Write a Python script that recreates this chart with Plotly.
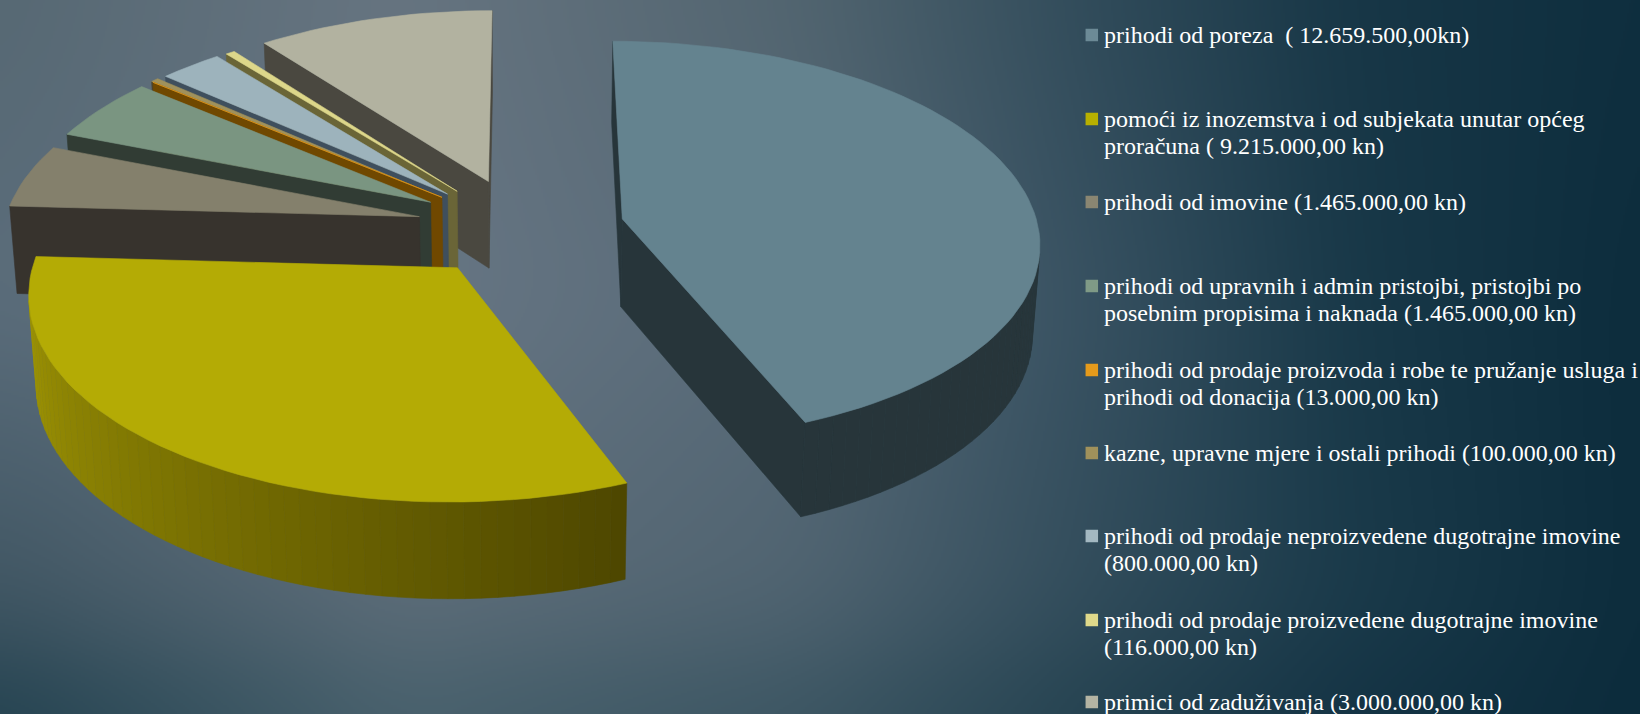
import base64, struct, zlib
import numpy as np
import plotly.graph_objects as go

# ---- data ----
categories = [
    "prihodi od poreza\u00a0\u00a0( 12.659.500,00kn)",
    "pomoći iz inozemstva i od subjekata unutar općeg<br>proračuna ( 9.215.000,00 kn)",
    "prihodi od imovine (1.465.000,00 kn)",
    "prihodi od upravnih i admin pristojbi, pristojbi po<br>posebnim propisima i naknada (1.465.000,00 kn)",
    "prihodi od prodaje proizvoda i robe te pružanje usluga i<br>prihodi od donacija (13.000,00 kn)",
    "kazne, upravne mjere i ostali prihodi (100.000,00 kn)",
    "prihodi od prodaje neproizvedene dugotrajne imovine<br>(800.000,00 kn)",
    "prihodi od prodaje proizvedene dugotrajne imovine<br>(116.000,00 kn)",
    "primici od zaduživanja (3.000.000,00 kn)",
]
values = [12659500, 9215000, 1465000, 1465000, 13000, 100000, 800000, 116000, 3000000]
pull = [0.24, 0.265, 0.27, 0.27, 0.27, 0.27, 0.27, 0.27, 0.27]
shift_x = [-0.003, -0.007, 0.006, 0.0, 0.002, -0.006, -0.005, -0.002, -0.006]
shift_y = [0.0, 0.020, 0.0, -0.006, -0.016, -0.016, -0.021, -0.024, -0.016]
top_colors = ["#64838F", "#B4AB05", "#84806C", "#7A9581", "#E59A1B", "#A0915B", "#9DB3BC", "#DDD78A", "#B2B2A0"]
side_colors = ["#27353A", "#6E6703", "#37332D", "#313C34", "#704800", "#4A4330", "#3F4F5D", "#6A6537", "#4A4840"]
legend_colors = ["#6C8A96", "#B8B000", "#8A8672", "#7F9A86", "#E59A1B", "#A0915B", "#A3B8C1", "#DFD98A", "#B4B4A3"]
marker_y = [35, 119, 202, 286, 370, 453, 536, 620, 702]
line_gap = 27.3
rim_dark, rim_light = (0x4E, 0x47, 0x00), (0xA8, 0x9E, 0x05)

# background colour samples
bg_x = [0, 400, 800, 1100, 1350, 1640]
bg_y = [0, 300, 600, 714]
bg_rows = [
    ["#566873", "#667480", "#51646F", "#2F4A59", "#173646", "#0E2E3E"],
    ["#5A6C7A", "#677684", "#586A78", "#365060", "#183848", "#0C2C3C"],
    ["#3F5562", "#5C6C78", "#4F6370", "#304B5A", "#1A3A4A", "#0C2C3C"],
    ["#234250", "#47606C", "#3B5562", "#23414F", "#143344", "#0B2B3B"],
]

# ---- projection ----
W, H = 1640, 714
cx, cy, F = 526, 228, 416
elev = np.radians(28.6)
s, c = np.sin(elev), np.cos(elev)
D, h = 8.0, 0.245
camera = np.array([0, -D * c, D * s])


def proj(p):
    X, Y, Z = p
    d = 1 + (Y * c - Z * s) / D
    return cx + F * X / d, cy - F * (Y * s + Z * c) / d


def direction(a):
    return np.array([np.sin(a), np.cos(a), 0.0])


def bg_image():
    w, h2 = W // 2, H // 2
    grid = np.array([[[int(col[i:i + 2], 16) for i in (1, 3, 5)] for col in row] for row in bg_rows], float)
    xs, ys = np.arange(w) * 2.0, np.arange(h2) * 2.0
    by_x = np.stack([[np.interp(xs, bg_x, grid[r, :, k]) for k in range(3)] for r in range(len(bg_y))])
    rgb = np.stack([[np.interp(ys, bg_y, by_x[:, k, col]) for col in range(w)] for k in range(3)], -1)
    rgb = np.transpose(rgb, (1, 0, 2))
    r = 30
    for axis in (0, 1):
        pad = [(0, 0)] * 3
        pad[axis] = (r + 1, r)
        cs = np.cumsum(np.pad(rgb, pad, mode="edge"), axis=axis)
        rgb = (np.take(cs, range(2 * r + 1, cs.shape[axis]), axis=axis) -
               np.take(cs, range(0, cs.shape[axis] - 2 * r - 1), axis=axis)) / (2 * r + 1)
    rgb = np.clip(rgb + 0.5, 0, 255).astype(np.uint8)
    raw = b"".join(b"\x00" + rgb[r_].tobytes() for r_ in range(h2))

    def chunk(t_, d_):
        return struct.pack(">I", len(d_)) + t_ + d_ + struct.pack(">I", zlib.crc32(t_ + d_))

    png = b"\x89PNG\r\n\x1a\n" + chunk(b"IHDR", struct.pack(">IIBBBBB", w, h2, 8, 2, 0, 0, 0)) + chunk(b"IDAT", zlib.compress(raw, 9)) + chunk(b"IEND", b"")
    return "data:image/png;base64," + base64.b64encode(png).decode()


fig = go.Figure()


def poly(points, color):
    xy = [proj(p) for p in points]
    xs = [q[0] for q in xy] + [xy[0][0]]
    ys = [q[1] for q in xy] + [xy[0][1]]
    fig.add_trace(go.Scatter(x=xs, y=ys, mode="lines", fill="toself", fillcolor=color,
                             line=dict(color=color, width=0.6), hoverinfo="skip", showlegend=False))


total = sum(values)
edges = np.concatenate([[0], np.cumsum(values)]) / total * 2 * np.pi
slices = []
for i, v in enumerate(values):
    a, b = edges[i], edges[i + 1]
    apex = direction((a + b) / 2) * pull[i] + np.array([shift_x[i], shift_y[i], 0.0])
    slices.append((i, a, b, apex))

# painter's order: far slices first, the two large front slices last
order = [8, 7, 6, 5, 4, 3, 2, 0, 1]
for i in order:
    _, a, b, apex = slices[i]
    n = max(2, int(np.degrees(b - a) / 2) + 1)
    arc = np.linspace(a, b, n)
    down = np.array([0, 0, -h])
    walls = []
    for ang, nrm in ((a, a - np.pi / 2), (b, b + np.pi / 2)):
        q0 = apex
        q1 = apex + direction(ang)
        if direction(nrm) @ (camera - q0) > 0:
            walls.append((max(q0[1], q1[1]), [q0, q1, q1 + down, q0 + down], side_colors[i]))
    for j in range(n - 1):
        m = (arc[j] + arc[j + 1]) / 2
        q0 = apex + direction(arc[j])
        q1 = apex + direction(arc[j + 1])
        if direction(m) @ (camera - q0) > 0:
            if i == 1:
                f = (m - a) / (b - a)
                col = "rgb(%d,%d,%d)" % tuple(rim_dark[k] + (rim_light[k] - rim_dark[k]) * f for k in range(3))
            else:
                col = side_colors[i]
            walls.append(((q0[1] + q1[1]) / 2, [q0, q1, q1 + down, q0 + down], col))
    for _, pts, col in sorted(walls, key=lambda w: -w[0]):
        poly(pts, col)
    poly([apex] + [apex + direction(t) for t in arc], top_colors[i])

# legend
fig.add_trace(go.Scatter(x=[1091.8] * len(categories), y=marker_y, mode="markers",
                         marker=dict(symbol="square", size=12.5, color=legend_colors, line=dict(width=0)),
                         hoverinfo="skip", showlegend=False))
for label, y in zip(categories, marker_y):
    for k, part in enumerate(label.split("<br>")):
        fig.add_annotation(x=1104, y=y + k * line_gap, xref="x", yref="y", text=part, showarrow=False, align="left",
                           xanchor="left", yanchor="middle", xshift=-2,
                           font=dict(family="Liberation Serif", size=24, color="#FFFFFF"))

fig.update_layout(
    width=W, height=H, margin=dict(l=0, r=0, t=0, b=0), autosize=False,
    paper_bgcolor="#0C2C3C", plot_bgcolor="rgba(0,0,0,0)", showlegend=False,
    xaxis=dict(range=[0, W], visible=False, fixedrange=True),
    yaxis=dict(range=[H, 0], visible=False, fixedrange=True),
    images=[dict(source=bg_image(), xref="x", yref="y", x=0, y=0, sizex=W, sizey=H,
                 sizing="stretch", layer="below", xanchor="left", yanchor="top")],
)
fig.write_html("out.html", config={"displayModeBar": False},
               post_script="document.body.style.margin='0';document.body.style.overflow='hidden';")
